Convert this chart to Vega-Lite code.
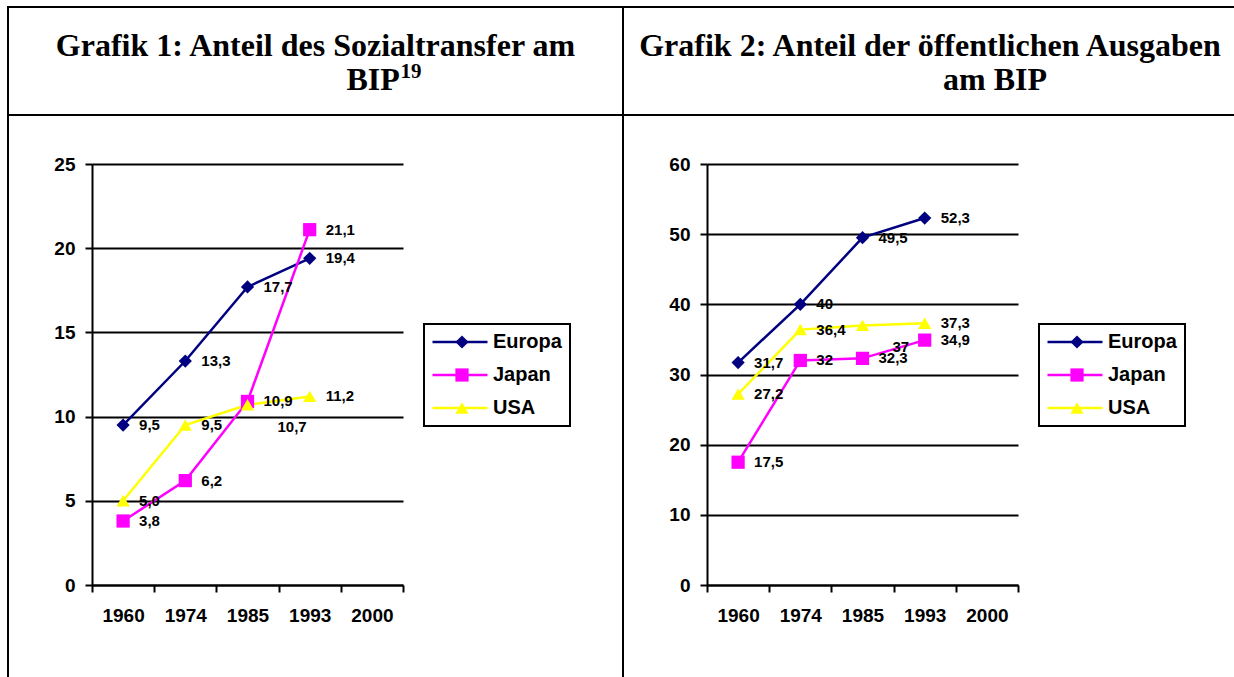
{
  "$schema": "https://vega.github.io/schema/vega-lite/v6.json",
  "padding": {"left": 7, "top": 6, "right": -4, "bottom": -9},
  "background": "white",
  "columns": 2,
  "spacing": 0,
  "align": "each",
  "bounds": "flush",
  "resolve": {
    "scale": {"color": "independent", "fill": "independent", "shape": "independent", "x": "independent", "y": "independent"},
    "legend": {"color": "independent", "fill": "independent", "shape": "independent"}
  },
  "config": {
    "view": {"stroke": "black", "strokeWidth": 2},
    "locale": {"number": {"decimal": ",", "thousands": ".", "grouping": [3], "currency": ["", " €"]}},
    "axis": {
      "domainColor": "black", "domainWidth": 2,
      "tickColor": "black", "tickWidth": 2, "tickSize": 7,
      "labelFont": "Liberation Sans", "labelFontWeight": "bold", "labelFontSize": 19, "labelColor": "black",
      "gridColor": "black", "gridWidth": 2, "gridOpacity": 1
    },
    "axisX": {"grid": false, "labelAngle": 0, "tickBand": "extent", "offset": -100, "labelPadding": 14},
    "axisY": {"labelPadding": 10},
    "legend": {"labelFont": "Liberation Sans", "labelFontWeight": "bold", "labelFontSize": 20, "labelColor": "black", "strokeWidth": 2}
  },
  "datasets": {
    "sozialtransfer": [
      {"Land": "Europa", "Jahr": "1960", "Wert": 9.5},
      {"Land": "Europa", "Jahr": "1974", "Wert": 13.3},
      {"Land": "Europa", "Jahr": "1985", "Wert": 17.7},
      {"Land": "Europa", "Jahr": "1993", "Wert": 19.4},
      {"Land": "Japan", "Jahr": "1960", "Wert": 3.8},
      {"Land": "Japan", "Jahr": "1974", "Wert": 6.2},
      {"Land": "Japan", "Jahr": "1985", "Wert": 10.9},
      {"Land": "Japan", "Jahr": "1993", "Wert": 21.1},
      {"Land": "USA", "Jahr": "1960", "Wert": 5.0},
      {"Land": "USA", "Jahr": "1974", "Wert": 9.5},
      {"Land": "USA", "Jahr": "1985", "Wert": 10.7},
      {"Land": "USA", "Jahr": "1993", "Wert": 11.2}
    ],
    "ausgaben": [
      {"Land": "Europa", "Jahr": "1960", "Wert": 31.7},
      {"Land": "Europa", "Jahr": "1974", "Wert": 40},
      {"Land": "Europa", "Jahr": "1985", "Wert": 49.5},
      {"Land": "Europa", "Jahr": "1993", "Wert": 52.3},
      {"Land": "Japan", "Jahr": "1960", "Wert": 17.5},
      {"Land": "Japan", "Jahr": "1974", "Wert": 32},
      {"Land": "Japan", "Jahr": "1985", "Wert": 32.3},
      {"Land": "Japan", "Jahr": "1993", "Wert": 34.9},
      {"Land": "USA", "Jahr": "1960", "Wert": 27.2},
      {"Land": "USA", "Jahr": "1974", "Wert": 36.4},
      {"Land": "USA", "Jahr": "1985", "Wert": 37},
      {"Land": "USA", "Jahr": "1993", "Wert": 37.3}
    ]
  },
  "concat": [
    {
      "width": 615, "height": 108,
      "view": {"stroke": "black", "strokeWidth": 2},
      "data": {"values": [{"Teil": "z1", "Text": "Grafik 1: Anteil des Sozialtransfer am"}, {"Teil": "z2", "Text": "BIP"}, {"Teil": "sup", "Text": "19"}]},
      "layer": [
        {"transform": [{"filter": "datum.Teil == 'z1'"}], "mark": {"type": "text", "font": "Liberation Serif", "fontWeight": "bold", "fontSize": 32, "baseline": "alphabetic", "align": "center", "dy": -5, "color": "black"}, "encoding": {"text": {"field": "Text"}}},
        {"transform": [{"filter": "datum.Teil == 'z2'"}], "mark": {"type": "text", "font": "Liberation Serif", "fontWeight": "bold", "fontSize": 32, "baseline": "alphabetic", "align": "left", "dx": 31, "dy": 29, "color": "black"}, "encoding": {"text": {"field": "Text"}}},
        {"transform": [{"filter": "datum.Teil == 'sup'"}], "mark": {"type": "text", "font": "Liberation Serif", "fontWeight": "bold", "fontSize": 21, "baseline": "alphabetic", "align": "left", "dx": 85, "dy": 17, "color": "black"}, "encoding": {"text": {"field": "Text"}}}
      ]
    },
    {
      "width": 614, "height": 108,
      "view": {"stroke": "black", "strokeWidth": 2},
      "data": {"values": [{"Teil": "z1", "Text": "Grafik 2: Anteil der öffentlichen Ausgaben"}, {"Teil": "z2", "Text": "am BIP"}]},
      "layer": [
        {"transform": [{"filter": "datum.Teil == 'z1'"}], "mark": {"type": "text", "font": "Liberation Serif", "fontWeight": "bold", "fontSize": 32, "baseline": "alphabetic", "align": "center", "dy": -5, "color": "black"}, "encoding": {"text": {"field": "Text"}}},
        {"transform": [{"filter": "datum.Teil == 'z2'"}], "mark": {"type": "text", "font": "Liberation Serif", "fontWeight": "bold", "fontSize": 32, "baseline": "alphabetic", "align": "left", "dx": 13, "dy": 29, "color": "black"}, "encoding": {"text": {"field": "Text"}}}
      ]
    },
    {
      "width": 615, "height": 570,
      "data": {"name": "sozialtransfer"},
      "resolve": {"axis": {"y": "independent"}},
      "encoding": {
        "x": {"field": "Jahr", "type": "nominal", "scale": {"type": "band", "domain": ["1960", "1974", "1985", "1993", "2000"], "range": [84, 395], "paddingInner": 0, "paddingOuter": 0}, "axis": {"title": null}}
      },
      "layer": [
        {"mark": {"type": "line", "strokeWidth": 2.5},
         "encoding": {
           "y": {"field": "Wert", "type": "quantitative", "scale": {"domain": [0, 25], "range": [470, 49], "nice": false}, "axis": {"title": null, "orient": "left", "offset": 0, "grid": true, "labels": false, "ticks": false, "domain": false, "values": [0, 5, 10, 15, 20, 25]}},
           "color": {"field": "Land", "type": "nominal",
           "scale": {"domain": ["Europa", "Japan", "USA"], "range": ["#000080", "#FF00FF", "#FFFF00"]},
           "legend": {"title": null, "orient": "none", "legendX": 416, "legendY": 209, "symbolType": "M-4,0H4", "symbolSize": 189, "symbolStrokeWidth": 2.5, "padding": 8, "rowPadding": 13, "symbolOffset": 18, "labelOffset": 23, "strokeColor": "black"}}}},
        {"mark": {"type": "point", "filled": true, "size": 175, "opacity": 1, "strokeWidth": 0},
         "encoding": {
           "y": {"field": "Wert", "type": "quantitative", "scale": {"domain": [0, 25], "range": [470, 49], "nice": false}, "axis": {"title": null, "orient": "left", "offset": -84, "grid": false, "values": [0, 5, 10, 15, 20, 25]}},
           "fill": {"field": "Land", "type": "nominal", "scale": {"range": ["#000080", "#FF00FF", "#FFFF00"]},
             "legend": {"title": null, "orient": "none", "legendX": 416, "legendY": 209, "symbolSize": 175, "symbolStrokeWidth": 0, "padding": 8, "rowPadding": 13, "symbolOffset": 20, "labelExpr": "''"}},
           "shape": {"field": "Land", "type": "nominal", "scale": {"range": ["diamond", "square", "triangle-up"]},
             "legend": {"title": null, "orient": "none", "legendX": 416, "legendY": 209, "symbolSize": 175, "symbolStrokeWidth": 0, "padding": 8, "rowPadding": 13, "symbolOffset": 20, "labelExpr": "''"}}
         }},
        {"transform": [{"filter": "!(datum.Land == 'USA' && datum.Jahr == '1985')"}],
         "mark": {"type": "text", "align": "left", "baseline": "middle", "dx": 16, "font": "Liberation Sans", "fontWeight": "bold", "fontSize": 15, "color": "black"},
         "encoding": {
           "y": {"field": "Wert", "type": "quantitative", "scale": {"domain": [0, 25], "range": [470, 49], "nice": false}, "axis": null},
           "text": {"field": "Wert", "type": "quantitative", "format": ".1f"}}},
        {"transform": [{"filter": "datum.Land == 'USA' && datum.Jahr == '1985'"}],
         "mark": {"type": "text", "align": "left", "baseline": "middle", "dx": 30, "dy": 22, "font": "Liberation Sans", "fontWeight": "bold", "fontSize": 15, "color": "black"},
         "encoding": {
           "y": {"field": "Wert", "type": "quantitative", "scale": {"domain": [0, 25], "range": [470, 49], "nice": false}, "axis": null},
           "text": {"field": "Wert", "type": "quantitative", "format": ".1f"}}}
      ]
    },
    {
      "width": 614, "height": 570,
      "data": {"name": "ausgaben"},
      "resolve": {"axis": {"y": "independent"}},
      "encoding": {
        "x": {"field": "Jahr", "type": "nominal", "scale": {"type": "band", "domain": ["1960", "1974", "1985", "1993", "2000"], "range": [84, 395], "paddingInner": 0, "paddingOuter": 0}, "axis": {"title": null}}
      },
      "layer": [
        {"mark": {"type": "line", "strokeWidth": 2.5},
         "encoding": {
           "y": {"field": "Wert", "type": "quantitative", "scale": {"domain": [0, 60], "range": [470, 49], "nice": false}, "axis": {"title": null, "orient": "left", "offset": 0, "grid": true, "labels": false, "ticks": false, "domain": false, "values": [0, 10, 20, 30, 40, 50, 60]}},
           "color": {"field": "Land", "type": "nominal",
           "scale": {"domain": ["Europa", "Japan", "USA"], "range": ["#000080", "#FF00FF", "#FFFF00"]},
           "legend": {"title": null, "orient": "none", "legendX": 416, "legendY": 209, "symbolType": "M-4,0H4", "symbolSize": 189, "symbolStrokeWidth": 2.5, "padding": 8, "rowPadding": 13, "symbolOffset": 18, "labelOffset": 23, "strokeColor": "black"}}}},
        {"mark": {"type": "point", "filled": true, "size": 175, "opacity": 1, "strokeWidth": 0},
         "encoding": {
           "y": {"field": "Wert", "type": "quantitative", "scale": {"domain": [0, 60], "range": [470, 49], "nice": false}, "axis": {"title": null, "orient": "left", "offset": -84, "grid": false, "values": [0, 10, 20, 30, 40, 50, 60]}},
           "fill": {"field": "Land", "type": "nominal", "scale": {"range": ["#000080", "#FF00FF", "#FFFF00"]},
             "legend": {"title": null, "orient": "none", "legendX": 416, "legendY": 209, "symbolSize": 175, "symbolStrokeWidth": 0, "padding": 8, "rowPadding": 13, "symbolOffset": 20, "labelExpr": "''"}},
           "shape": {"field": "Land", "type": "nominal", "scale": {"range": ["diamond", "square", "triangle-up"]},
             "legend": {"title": null, "orient": "none", "legendX": 416, "legendY": 209, "symbolSize": 175, "symbolStrokeWidth": 0, "padding": 8, "rowPadding": 13, "symbolOffset": 20, "labelExpr": "''"}}
         }},
        {"transform": [{"filter": "!(datum.Land == 'USA' && datum.Jahr == '1985')"}],
         "mark": {"type": "text", "align": "left", "baseline": "middle", "dx": 16, "font": "Liberation Sans", "fontWeight": "bold", "fontSize": 15, "color": "black"},
         "encoding": {
           "y": {"field": "Wert", "type": "quantitative", "scale": {"domain": [0, 60], "range": [470, 49], "nice": false}, "axis": null},
           "text": {"field": "Wert", "type": "quantitative", "format": "~g"}}},
        {"transform": [{"filter": "datum.Land == 'USA' && datum.Jahr == '1985'"}],
         "mark": {"type": "text", "align": "left", "baseline": "middle", "dx": 30, "dy": 22, "font": "Liberation Sans", "fontWeight": "bold", "fontSize": 15, "color": "black"},
         "encoding": {
           "y": {"field": "Wert", "type": "quantitative", "scale": {"domain": [0, 60], "range": [470, 49], "nice": false}, "axis": null},
           "text": {"field": "Wert", "type": "quantitative", "format": "~g"}}}
      ]
    }
  ]
}
